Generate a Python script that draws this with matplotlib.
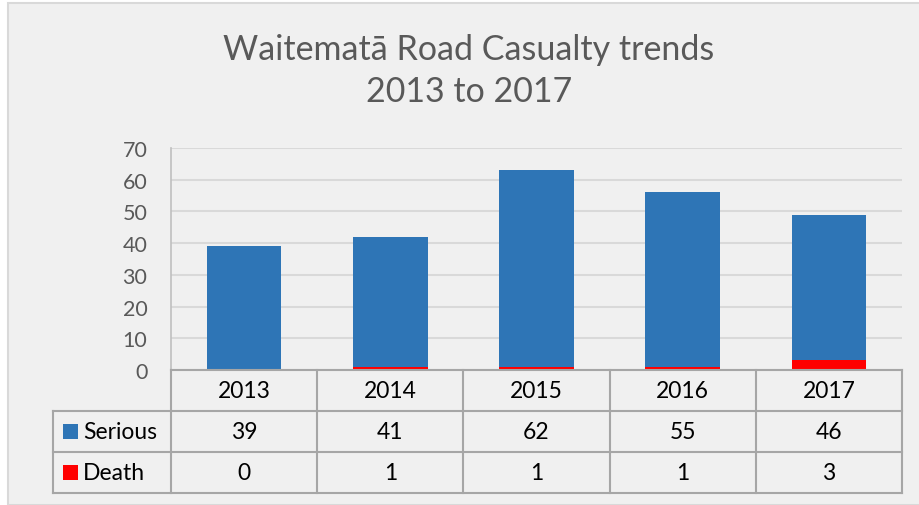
import matplotlib
matplotlib.use("Agg")
import matplotlib.pyplot as plt
from matplotlib.patches import Rectangle

# ── data ─────────────────────────────────────────────────────────────────────
years = ["2013", "2014", "2015", "2016", "2017"]
serious = [39, 41, 62, 55, 46]
death = [0, 1, 1, 1, 3]
series_names = ["Serious", "Death"]

BLUE = "#2E75B6"
RED = "#FF0000"
BG = "#F0F0F0"
GRID = "#D9D9D9"
TABLE_LINE = "#A6A6A6"
TXT = "#595959"

plt.rcParams["font.family"] = ["Lato", "DejaVu Sans"]

W, H = 919, 506
fig = plt.figure(figsize=(W / 100, H / 100), dpi=100, facecolor="white")

# chart background panel
fig.patches.append(Rectangle((8 / W, 0), 1, 1 - 4 / H, transform=fig.transFigure,
                             facecolor=BG, edgecolor=GRID, linewidth=1.5, zorder=-5))


def px_box(x0, y0, x1, y1):
    return [x0 / W, 1 - y1 / H, (x1 - x0) / W, (y1 - y0) / H]


# ── bars ─────────────────────────────────────────────────────────────────────
ax = fig.add_axes(px_box(171, 149, 902, 371))
ax.set_zorder(2)
ax.set_facecolor("none")
x = range(len(years))
ax.bar(x, death, width=0.51, color=RED, zorder=3)
ax.bar(x, serious, width=0.51, bottom=death, color=BLUE, zorder=3)
ax.set_xlim(-0.5, len(years) - 0.5)
ax.set_ylim(0, 70)
ax.set_yticks(range(0, 71, 10))
ax.yaxis.grid(True, color=GRID, linewidth=1.5, zorder=0)
ax.set_axisbelow(True)
ax.set_xticks([])
ax.tick_params(axis="y", length=0, pad=17, labelsize=15.5, labelcolor=TXT)
for s in ["top", "right", "bottom"]:
    ax.spines[s].set_visible(False)
ax.spines["left"].set_color("#BFBFBF")
ax.spines["left"].set_linewidth(1.2)

# ── data table ───────────────────────────────────────────────────────────────
unit = (902 - 171) / len(years)
tx0 = -0.5 - (171 - 53) / unit
tab = fig.add_axes(px_box(53, 371, 902, 494))
tab.set_zorder(2)
tab.set_facecolor("none")
tab.set_xlim(tx0, len(years) - 0.5)
tab.set_ylim(3, 0)
tab.axis("off")

lk = dict(color=TABLE_LINE, linewidth=1.5, clip_on=False)
tab.plot([-0.5, len(years) - 0.5], [0, 0], **lk)
for r in (1, 2, 3):
    tab.plot([tx0, len(years) - 0.5], [r, r], **lk)
tab.plot([tx0, tx0], [1, 3], **lk)
for c in range(len(years) + 1):
    tab.plot([c - 0.5, c - 0.5], [0, 3], **lk)

fs = 16.5
for i, yr in enumerate(years):
    tab.text(i, 0.5, yr, ha="center", va="center", fontsize=fs, color="black")
    tab.text(i, 1.5, str(serious[i]), ha="center", va="center", fontsize=fs, color="black")
    tab.text(i, 2.5, str(death[i]), ha="center", va="center", fontsize=fs, color="black")

for r, (name, col) in enumerate(zip(series_names, [BLUE, RED]), start=1):
    tab.add_patch(Rectangle((tx0 + 10 / unit, r + 0.5 - 0.19), 15 / unit, 0.38,
                            facecolor=col, edgecolor="none", clip_on=False))
    tab.text(tx0 + 30 / unit, r + 0.5, name, ha="left", va="center",
             fontsize=fs, color="black")

# ── title ────────────────────────────────────────────────────────────────────
fig.text(469 / W, 1 - 71 / H, "Waitematā Road Casualty trends\n2013 to 2017",
         ha="center", va="center", fontsize=24.5, color=TXT, linespacing=1.42)

fig.savefig("out.png", dpi=100, facecolor="white")
